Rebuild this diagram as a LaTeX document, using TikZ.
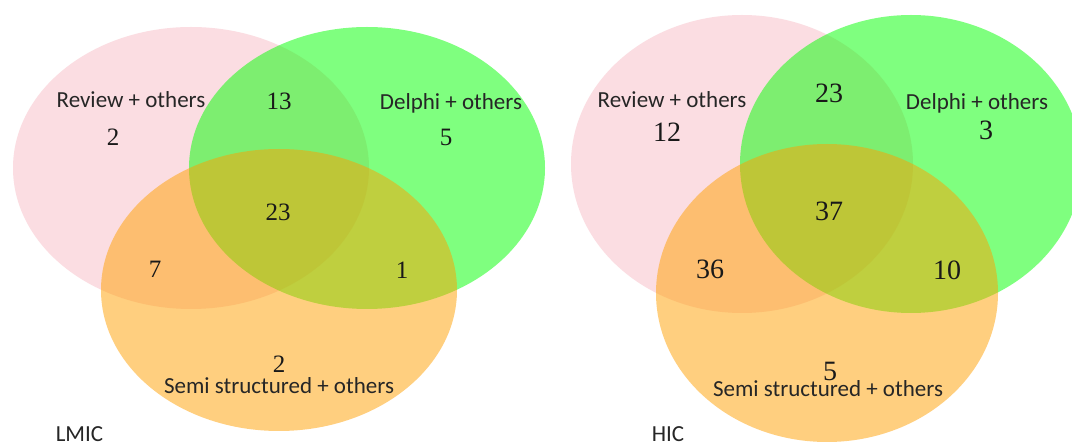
\documentclass[tikz,border=0pt]{standalone}
\usepackage{fontspec}
\usetikzlibrary{shapes.geometric}
\newfontfamily\lblfont{Carlito}
\newfontfamily\numfont{Liberation Serif}
\definecolor{vpink}{RGB}{251,221,226}
\definecolor{vgreen}{RGB}{0,255,0}
\definecolor{vorange}{RGB}{255,160,0}
\tikzset{
  venn/.style={ellipse, inner sep=0pt, draw=none},
  lset/.style={venn, minimum width=356pt, minimum height=282pt},
  rset/.style={venn, minimum width=342pt, minimum height=298pt},
  pinkfill/.style={fill=vpink},
  greenfill/.style={fill=vgreen, fill opacity=0.5},
  orangefill/.style={fill=vorange, fill opacity=0.5},
  lbl/.style={anchor=base, inner sep=0pt, font=\lblfont\fontsize{23}{27}\selectfont, text=black!85},
  lnum/.style={anchor=base, inner sep=0pt, font=\numfont\fontsize{25}{30}\selectfont, text=black!90},
  rnum/.style={anchor=base, inner sep=0pt, font=\numfont\fontsize{28}{33}\selectfont, text=black!90}
}
\begin{document}
\begin{tikzpicture}[x=1pt,y=-1pt]
\useasboundingbox (0,0) rectangle (1072,446);
\clip (0,0) rectangle (1072,446);
\fill[white] (0,0) rectangle (1072,446);
% ---- LMIC ----
\node[lset, pinkfill]   (lpink)   at (191,168) {};
\node[lset, greenfill]  (lgreen)  at (367,168) {};
\node[lset, orangefill] (lorange) at (279,290) {};
\node[lbl]  (lrevl)  at (131,107.4) {Review + others};
\node[lnum] (lrevn)  at (113,145.5) {2};
\node[lnum] (lrd)    at (279,109.5) {13};
\node[lbl]  (ldell)  at (451,109.4) {Delphi + others};
\node[lnum] (ldeln)  at (446,145.5) {5};
\node[lnum] (lall)   at (278,220.5) {23};
\node[lnum] (lrs)    at (155,277.5) {7};
\node[lnum] (lds)    at (402,278.5) {1};
\node[lnum] (lsemn)  at (279,372.5) {2};
\node[lbl]  (lseml)  at (279,393.4) {Semi structured + others};
\node[lbl]  (ltitle) at (79.5,442) {LMIC};
% ---- HIC ----
\node[rset, pinkfill]   (rpink)   at (742,164) {};
\node[rset, greenfill]  (rgreen)  at (911,164) {};
\node[rset, orangefill] (rorange) at (827,293) {};
\node[lbl]  (rrevl)  at (672,107.4) {Review + others};
\node[rnum] (rrevn)  at (667,141.5) {12};
\node[rnum] (rrd)    at (829,102.5) {23};
\node[lbl]  (rdell)  at (977,109.4) {Delphi + others};
\node[rnum] (rdeln)  at (986,139.5) {3};
\node[rnum] (rall)   at (829,220.5) {37};
\node[rnum] (rrs)    at (710,278.5) {36};
\node[rnum] (rds)    at (947,279.5) {10};
\node[rnum] (rsemn)  at (830,380.5) {5};
\node[lbl]  (rseml)  at (828,396.4) {Semi structured + others};
\node[lbl]  (rtitle) at (668,442) {HIC};
\end{tikzpicture}
\end{document}
